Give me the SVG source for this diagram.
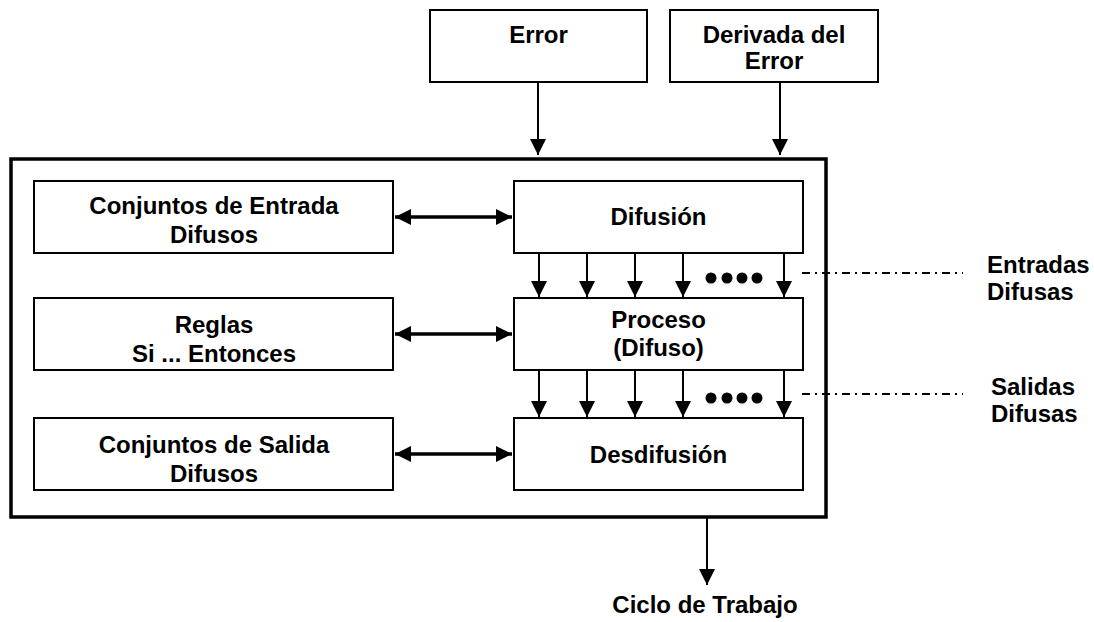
<svg xmlns="http://www.w3.org/2000/svg" width="1094" height="622" viewBox="0 0 1094 622">
<defs>
<marker id="ah" viewBox="0 0 16 16" refX="16" refY="8" markerWidth="16" markerHeight="16" markerUnits="userSpaceOnUse" orient="auto-start-reverse">
<path d="M0,0 L16,8 L0,16 Z" fill="#000"/>
</marker>
<marker id="ah2" viewBox="0 0 16 16" refX="16" refY="8" markerWidth="16" markerHeight="16" markerUnits="userSpaceOnUse" orient="auto-start-reverse">
<path d="M0,0 L16,8 L0,16 Z" fill="#000"/>
</marker>
</defs>
<style>
.box{fill:#fff;stroke:#000;stroke-width:2}
.outer{fill:none;stroke:#000;stroke-width:3.5}
text{font-family:"Liberation Sans",Arial,sans-serif;font-weight:bold;font-size:24px;fill:#000}
.c{text-anchor:middle}
.arr{stroke:#000;stroke-width:2;fill:none;marker-end:url(#ah)}
.dbl{stroke:#000;stroke-width:3.5;fill:none;marker-end:url(#ah2);marker-start:url(#ah2)}
.dd{stroke:#000;stroke-width:2;fill:none;stroke-dasharray:8 5 2 5}
</style>
<rect width="1094" height="622" fill="#fff"/>

<g id="outer"><rect class="outer" x="11" y="159" width="815" height="358"/></g>

<g id="error"><rect class="box" x="430" y="10" width="217" height="72"/><text class="c" x="538.5" y="43">Error</text></g>
<g id="derivada"><rect class="box" x="670" y="10" width="208" height="72"/><text class="c" x="774" y="43">Derivada del</text><text class="c" x="774" y="69">Error</text></g>

<g id="conj-entrada"><rect class="box" x="34" y="181" width="359" height="72"/><text class="c" x="214" y="214">Conjuntos de Entrada</text><text class="c" x="214" y="243">Difusos</text></g>
<g id="reglas"><rect class="box" x="34" y="298" width="359" height="72"/><text class="c" x="214" y="333">Reglas</text><text class="c" x="214" y="362">Si ... Entonces</text></g>
<g id="conj-salida"><rect class="box" x="34" y="418" width="359" height="72"/><text class="c" x="214" y="453">Conjuntos de Salida</text><text class="c" x="214" y="482">Difusos</text></g>

<g id="difusion"><rect class="box" x="514" y="181" width="289" height="72"/><text class="c" x="658.5" y="225">Difusión</text></g>
<g id="proceso"><rect class="box" x="514" y="298" width="289" height="72"/><text class="c" x="658.5" y="328">Proceso</text><text class="c" x="658.5" y="356">(Difuso)</text></g>
<g id="desdifusion"><rect class="box" x="514" y="418" width="289" height="72"/><text class="c" x="658.5" y="463">Desdifusión</text></g>

<g id="connectors">
<line class="arr" x1="538" y1="82" x2="538" y2="155"/>
<line class="arr" x1="780" y1="82" x2="780" y2="155"/>
<line class="dbl" x1="395" y1="217" x2="512" y2="217"/>
<line class="dbl" x1="395" y1="334" x2="512" y2="334"/>
<line class="dbl" x1="395" y1="454" x2="512" y2="454"/>
<line class="arr" x1="539" y1="253" x2="539" y2="297"/>
<line class="arr" x1="587" y1="253" x2="587" y2="297"/>
<line class="arr" x1="635" y1="253" x2="635" y2="297"/>
<line class="arr" x1="683" y1="253" x2="683" y2="297"/>
<line class="arr" x1="784" y1="253" x2="784" y2="297"/>
<line class="arr" x1="539" y1="370" x2="539" y2="417"/>
<line class="arr" x1="587" y1="370" x2="587" y2="417"/>
<line class="arr" x1="635" y1="370" x2="635" y2="417"/>
<line class="arr" x1="683" y1="370" x2="683" y2="417"/>
<line class="arr" x1="784" y1="370" x2="784" y2="417"/>
<line class="arr" x1="707" y1="517" x2="707" y2="585"/>
<line class="dd" x1="802" y1="273" x2="963" y2="273"/>
<line class="dd" x1="802" y1="394" x2="963" y2="394"/>
</g>

<g id="dots1" fill="#000"><circle cx="711" cy="278" r="5.5"/><circle cx="727" cy="278" r="5.5"/><circle cx="742" cy="278" r="5.5"/><circle cx="757" cy="278" r="5.5"/></g>
<g id="dots2" fill="#000"><circle cx="711" cy="398" r="5.5"/><circle cx="727" cy="398" r="5.5"/><circle cx="742" cy="398" r="5.5"/><circle cx="757" cy="398" r="5.5"/></g>

<g id="label-entradas"><text x="987" y="273">Entradas</text><text x="987" y="300">Difusas</text></g>
<g id="label-salidas"><text x="991" y="395">Salidas</text><text x="991" y="422">Difusas</text></g>
<g id="label-ciclo"><text class="c" x="705" y="613">Ciclo de Trabajo</text></g>
</svg>
